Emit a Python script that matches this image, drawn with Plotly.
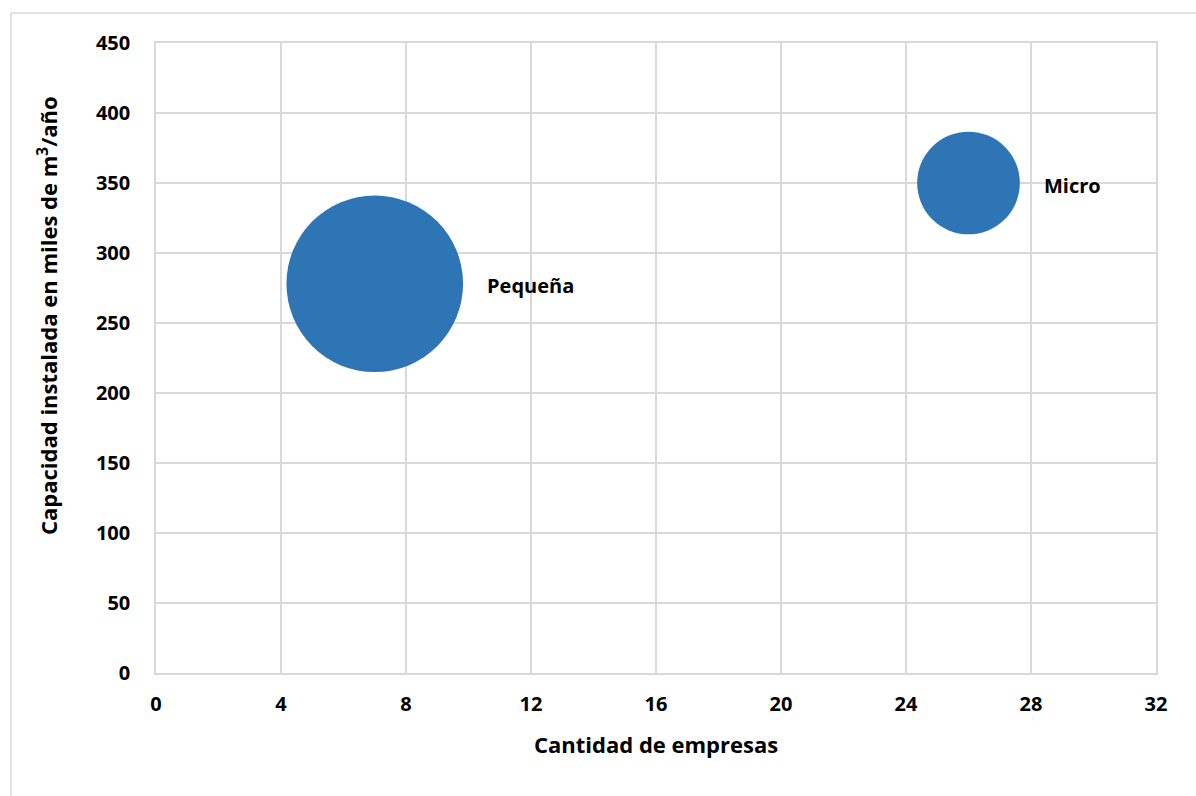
import plotly.graph_objects as go

categories = ["Pequeña", "Micro"]
empresas = [7, 26]
capacidad = [278, 350]
bubble_values = [296, 100]

x_ticks = [0, 4, 8, 12, 16, 20, 24, 28, 32]
y_ticks = [0, 50, 100, 150, 200, 250, 300, 350, 400, 450]

W, H = 1196, 796
L, R, T, B = 156, 40, 43, 123
pw, ph = W - L - R, H - T - B

FONT = "Open Sans"
grid = "#d9d9d9"
sizeref = 2 * max(bubble_values) / 176.6 ** 2

fig = go.Figure()
fig.add_trace(go.Scatter(
    x=empresas, y=capacidad, mode="markers",
    marker=dict(size=bubble_values, sizemode="area", sizeref=sizeref,
                color="#2e75b6", line=dict(width=0), opacity=1),
    hoverinfo="text", text=categories, showlegend=False,
))

annotations = []
for cx, cy, lab, v in zip(empresas, capacidad, categories, bubble_values):
    r = (2 * v / sizeref) ** 0.5 / 2
    annotations.append(dict(x=cx, y=cy, xref="x", yref="y", text=lab, showarrow=False,
                            xanchor="left", yanchor="middle", xshift=r + 22, yshift=-2,
                            font=dict(family=FONT, size=20, color="black", weight="bold")))

annotations.append(dict(x=0.5, y=-(744 - 673) / ph, xref="paper", yref="paper",
                        text="Cantidad de empresas", showarrow=False,
                        xanchor="center", yanchor="middle",
                        font=dict(family=FONT, size=22, color="black", weight="bold")))
annotations.append(dict(x=-(156 - 47) / pw, y=(673 - 316) / ph, xref="paper", yref="paper",
                        text="Capacidad instalada en miles de m<sup>3</sup>/año", showarrow=False,
                        textangle=-90, xanchor="center", yanchor="middle",
                        font=dict(family=FONT, size=22, color="black", weight="bold")))

fig.update_layout(
    width=W, height=H,
    margin=dict(l=L, r=R, t=T, b=B, pad=0),
    paper_bgcolor="white", plot_bgcolor="white",
    font=dict(family=FONT, color="black", size=20, weight="bold"),
    xaxis=dict(range=[0, 32], tickvals=x_ticks, ticktext=[str(t) for t in x_ticks],
               showgrid=True, gridcolor=grid, gridwidth=1.5, zeroline=False,
               showline=True, linecolor=grid, linewidth=1.5, mirror=True,
               ticks="", ticklabelstandoff=12,
               tickfont=dict(family=FONT, size=20, color="black", weight="bold")),
    yaxis=dict(range=[0, 450], tickvals=y_ticks, ticktext=[str(t) for t in y_ticks],
               showgrid=True, gridcolor=grid, gridwidth=1.5, zeroline=False,
               showline=True, linecolor=grid, linewidth=1.5, mirror=True,
               ticks="", ticklabelstandoff=20,
               tickfont=dict(family=FONT, size=20, color="black", weight="bold")),
    annotations=annotations,
    shapes=[dict(type="rect", xref="paper", yref="paper",
                 x0=(11 - L) / pw, x1=(1210 - L) / pw,
                 y0=(T + ph - 810) / ph, y1=(T + ph - 13) / ph,
                 line=dict(color=grid, width=1.5), fillcolor="rgba(0,0,0,0)", layer="below")],
)

fig.write_html("out.html", config={"displayModeBar": False},
               post_script="document.body.style.margin='0';document.body.style.overflow='hidden';")
